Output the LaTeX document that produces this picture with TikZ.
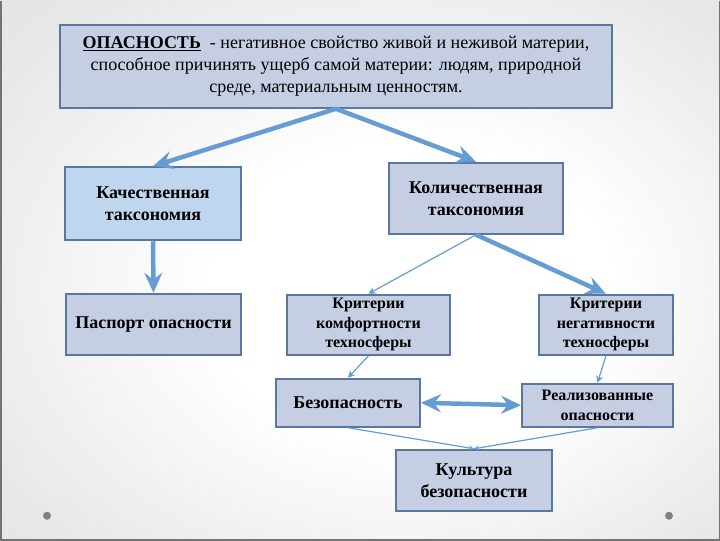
\documentclass[tikz,border=0pt]{standalone}
\usepackage{fontspec}
\setmainfont{Liberation Serif}
\usetikzlibrary{arrows.meta}

\definecolor{boxline}{RGB}{88,120,160}
\definecolor{boxfill}{RGB}{198,206,228}
\definecolor{lightfill}{RGB}{190,214,238}
\definecolor{arrowblue}{RGB}{102,156,210}
\pgfdeclareradialshading{slidebg}{\pgfpoint{5bp}{-3bp}}{color(0bp)=(white); color(14bp)=(white); color(32bp)=(black!9); color(50bp)=(black!14)}

\begin{document}
\begin{tikzpicture}[x=1pt,y=-1pt] \tikzstyle{box}=[draw=boxline, line width=2pt, fill=boxfill, align=center, inner sep=0pt, font=\bfseries\fontsize{18}{22}\selectfont]
        \tikzstyle{small}=[font=\bfseries\fontsize{16}{19.5}\selectfont]
        \tikzstyle{big}=[arrowblue, line width=4.5pt, -{Stealth[length=20pt, width=18pt, inset=7pt]}]
        \tikzstyle{thin}=[arrowblue, line width=1.2pt, -{Stealth[length=7pt, width=7pt]}]
        % background
        \shade[shading=slidebg] (0,0) rectangle (720,540);
        \draw[black!55, line width=1.5pt] (0.75,0) -- (0.75,539.25) -- (719.25,539.25) -- (719.25,0);
        \fill[black!50] (47,515) circle (4) (669,515) circle (4);
        % boxes
        \node[box, font=\fontsize{18}{22}\selectfont, minimum width=552, minimum height=83] (danger) at (336,65.5)
            {\underline{\textbf{ОПАСНОСТЬ}}\ \ - негативное свойство живой и неживой материи,\\
             способное причинять ущерб самой материи: людям, природной\\
             среде, материальным ценностям.};
        \node[box, fill=lightfill, minimum width=176, minimum height=73] (quality) at (153,203) {Качественная\\таксономия};
        \node[box, minimum width=174, minimum height=71] (quantity) at (476,197.5) {Количественная\\таксономия};
        \node[box, minimum width=175, minimum height=61] (passport) at (153.5,323.5) {Паспорт опасности};
        \node[box, small, minimum width=163, minimum height=60] (comfort) at (368.5,324) {Критерии\\комфортности\\техносферы};
        \node[box, small, minimum width=134, minimum height=60] (negative) at (606,324) {Критерии\\негативности\\техносферы};
        \node[box, minimum width=144, minimum height=48] (safety) at (348,402) {Безопасность};
        \node[box, small, minimum width=151, minimum height=43] (realized) at (597.5,404.5) {Реализованные\\опасности};
        \node[box, minimum width=156, minimum height=61] (culture) at (474,479.5) {Культура\\безопасности};
        % connectors
        \draw[big] (danger.south) -- (quality.north);
        \draw[big] (danger.south) -- (quantity.north);
        \draw[big] (quality.south) -- (passport.north);
        \draw[thin] (quantity.south) -- (comfort.north);
        \draw[big] (quantity.south) -- (negative.north);
        \draw[thin] (comfort.south) -- (safety.north);
        \draw[thin] (negative.south) -- (realized.north);
        \draw[big, {Stealth[length=20pt, width=18pt, inset=7pt]}-{Stealth[length=20pt, width=18pt, inset=7pt]}] (safety.east) -- (realized.west);
        \draw[thin, -{Stealth[length=5pt, width=5pt]}] (safety.south) -- (culture.north);
        \draw[thin, -{Stealth[length=5pt, width=5pt]}] (realized.south) -- (culture.north);
    \end{tikzpicture}
\end{document}
